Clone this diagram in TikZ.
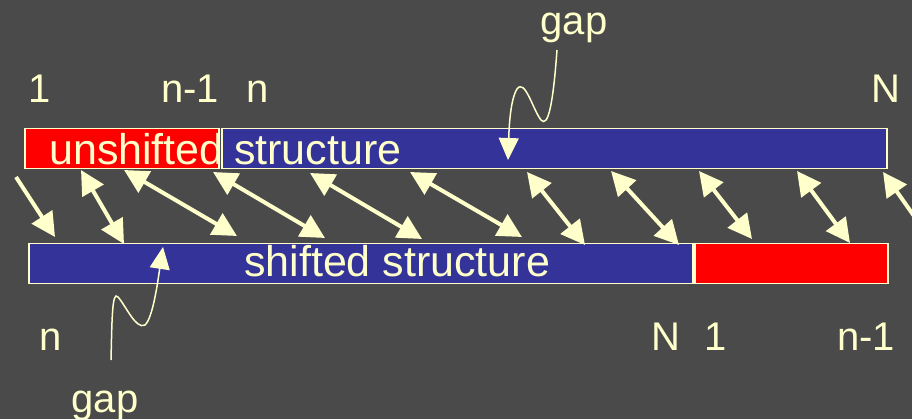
\documentclass[tikz,border=0pt]{standalone}
\usepackage{fontspec}
\setmainfont{Liberation Sans}
\usetikzlibrary{arrows.meta}
\definecolor{bg}{HTML}{4A4A4A}
\definecolor{cream}{HTML}{FFFFCC}
\definecolor{sblue}{HTML}{333399}
\definecolor{sred}{HTML}{FF0000}
\begin{document}
\begin{tikzpicture}[x=1pt,y=-1pt,
  box/.style={draw=cream, line width=1.5pt, inner sep=0pt, anchor=north west, minimum height=40pt},
  lbl/.style={text=cream, font=\fontsize{40}{48}\selectfont, inner sep=0pt, anchor=base},
  btxt/.style={text=cream, font=\fontsize{43}{50}\selectfont, inner sep=0pt, anchor=base west},
  dbl/.style={draw=cream, line width=4pt, {Triangle[length=24pt,width=24pt]}-{Triangle[length=24pt,width=24pt]}},
  sgl/.style={draw=cream, line width=4pt, -{Triangle[length=24pt,width=24pt]}},
  gaparrow/.style={draw=cream, line width=1.5pt, -{Triangle[length=22pt,width=20pt]}}]
\fill[bg] (0,0) rectangle (912,419);
\useasboundingbox (0,0) rectangle (912,419);

% boxes
\node[box, fill=sred, minimum width=194pt] (topred) at (24,128) {};
\node[btxt] (unsh) at (49,165) {unshifted};
\node[box, fill=sblue, minimum width=665pt] (topblue) at (221,128) {};
\node[btxt] (struct) at (234,165) {structure};
\node[box, fill=sblue, minimum width=664pt] (botblue) at (28,243) {};
\node[box, fill=sred, minimum width=193pt] (botred) at (694,243) {};
\node[btxt] (shstruct) at (244,277) {shifted structure};

% labels
\node[lbl] (l1) at (40,103) {1};
\node[lbl] (ln1) at (190,103) {n-1};
\node[lbl] (ln) at (258,103) {n};
\node[lbl] (lN) at (886,103) {N};
\node[lbl] (bn) at (51,350) {n};
\node[lbl] (bN) at (666,350) {N};
\node[lbl] (b1) at (716,350) {1};
\node[lbl] (bn1) at (866,350) {n-1};
\node[lbl] (gaptop) at (574,35) {gap};
\node[lbl] (gapbot) at (105,412) {gap};

% arrow ends
\coordinate (t1) at (16,177);   \coordinate (b1e) at (55,237);
\coordinate (t2) at (81,170);   \coordinate (b2e) at (124,244);
\coordinate (t3) at (124,170);  \coordinate (b3e) at (237,236);
\coordinate (t4) at (213,172);  \coordinate (b4e) at (325,238);
\coordinate (t5) at (310,173);  \coordinate (b5e) at (422,239);
\coordinate (t6) at (410,172);  \coordinate (b6e) at (522,237);
\coordinate (t7) at (527,172);  \coordinate (b7e) at (585,245);
\coordinate (t8) at (611,171);  \coordinate (b8e) at (679,245);
\coordinate (t9) at (699,171);  \coordinate (b9e) at (752,239);
\coordinate (t10) at (797,171); \coordinate (b10e) at (850,243);
\coordinate (t11) at (883,172); \coordinate (b11e) at (938,250);

\draw[sgl] (t1) -- (b1e);
\draw[dbl] (t2) -- (b2e);
\draw[dbl] (t3) -- (b3e);
\draw[dbl] (t4) -- (b4e);
\draw[dbl] (t5) -- (b5e);
\draw[dbl] (t6) -- (b6e);
\draw[dbl] (t7) -- (b7e);
\draw[dbl] (t8) -- (b8e);
\draw[dbl] (t9) -- (b9e);
\draw[dbl] (t10) -- (b10e);
\begin{scope}
\clip (0,0) rectangle (912,419);
\draw[draw=cream, line width=4pt, {Triangle[length=24pt,width=24pt]}-] (t11) -- (b11e);
\end{scope}

% gap arrows
\coordinate (gts) at (557,50);
\coordinate (gtt) at (508,160);
\draw[gaparrow] (gts) .. controls (553,105) and (548,128) .. (541,120)
  .. controls (533,110) and (525,78) .. (517,89)
  .. controls (510,100) and (509,130) .. (gtt);
\coordinate (gbs) at (111,360);
\coordinate (gbt) at (163,247);
\draw[gaparrow] (gbs) .. controls (112,320) and (112,290) .. (118,297)
  .. controls (126,306) and (136,330) .. (145,325)
  .. controls (153,318) and (158,280) .. (gbt);
\end{tikzpicture}
\end{document}
